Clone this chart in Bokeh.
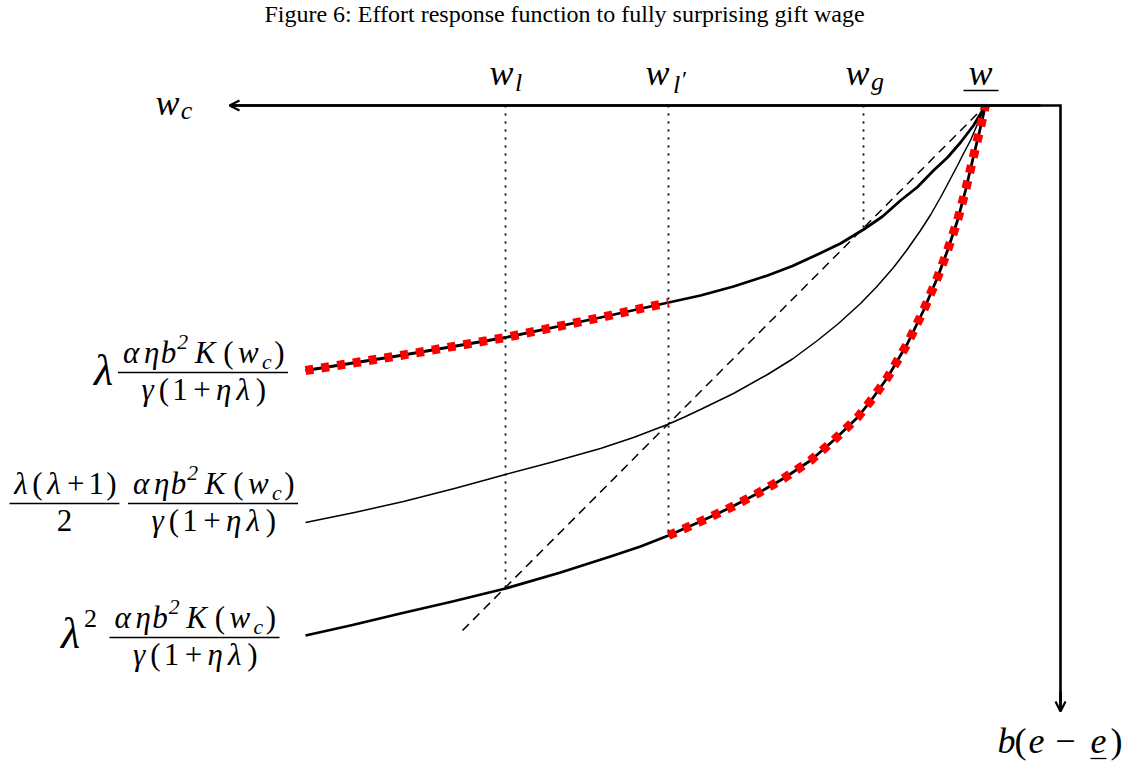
from bokeh.plotting import figure
from bokeh.models import Range1d, Arrow, OpenHead, ColumnDataSource
from bokeh.core.properties import value
from bokeh.embed import file_html
from bokeh.resources import INLINE

# ---------------- data (diagram coordinates, y grows downwards) ----------------
title_text = "Figure 6: Effort response function to fully surprising gift wage"

# curve: lambda * aeb2K/(g(1+el))  (top, thick)
upper_x = [305, 400, 505, 600, 668, 700, 733, 767, 792, 817, 840, 863, 882, 900, 917, 933, 947, 960, 973, 985]
upper_y = [370, 355, 337, 317, 302, 295, 286, 275, 265.5, 254, 243, 229, 216, 200, 186.5, 170, 157, 142, 125, 105]
# curve: lambda(lambda+1)/2 * ...  (middle, thin)
middle_x = [305, 354, 403, 454, 505, 552, 600, 633, 667, 683, 700, 733, 767, 792, 817, 838, 860, 876, 893, 906, 920, 930, 940, 948, 957, 963, 970, 977, 985]
middle_y = [522, 512, 501, 488, 474, 461.5, 448, 437, 424, 417, 409, 393, 374, 358.5, 340, 323, 303, 286.5, 267, 250, 230, 214.5, 197, 182, 165, 153, 140, 123.5, 105]
# curve: lambda^2 * ...  (bottom, thick)
lower_x = [305, 352, 400, 452, 505, 560, 610, 640, 668, 700, 728, 757, 783, 810, 833, 857, 872, 887, 907, 923, 937, 947, 957, 965, 972, 979, 985]
lower_y = [635, 624.5, 613, 601, 588, 572, 556, 546, 535, 521, 508, 493, 478, 460, 440, 417, 398, 377, 343, 310, 277, 250, 220, 190, 160, 131, 105]

# wage markers on the w_c axis and where their guides stop
guide_x = [505, 668, 863]
guide_end = [588, 535, 229]
axis_y = 105           # level of the w_c axis
axis_x = 1060          # position of the effort axis
axis_left_end = 229
axis_bottom_end = 711
dash_x = [462, 985]    # 45 degree reference line
dash_y = [630, 105]
switch_wage = 668      # w_{l'} where the response switches curves

# ---------------- figure ----------------
p = figure(width=1128, height=770, x_range=Range1d(0, 1128), y_range=Range1d(770, 0),
           min_border=0, toolbar_location=None, output_backend="svg",
           x_axis_location=None, y_axis_location=None)
p.grid.visible = False
p.outline_line_color = None
p.background_fill_color = "white"
p.border_fill_color = "white"

# guides
p.segment(x0=guide_x, y0=[axis_y] * 3, x1=guide_x, y1=guide_end,
          line_color="black", line_width=1.8, line_dash="2 6")
# dashed 45 degree line
p.line(dash_x, dash_y, line_color="black", line_width=1.5, line_dash="9 6")

# curves
p.line(upper_x, upper_y, line_color="black", line_width=2.8, line_join="round")
p.line(middle_x, middle_y, line_color="black", line_width=1.5, line_join="round")
p.line(lower_x, lower_y, line_color="black", line_width=2.8, line_join="round")

# red dotted optimal response
ux = [x for x in upper_x if x <= switch_wage]
uy = upper_y[:len(ux)]
lx = [x for x in lower_x if x >= switch_wage]
ly = lower_y[len(lower_x) - len(lx):]
p.line(ux, uy, line_color="#ff0000", line_width=9, line_dash="8 8", line_cap="butt")
p.line(lx, ly, line_color="#ff0000", line_width=9, line_dash="8 8", line_cap="butt")

# axes
p.line([axis_left_end + 2, axis_x, axis_x], [axis_y, axis_y, axis_bottom_end - 2],
       line_color="black", line_width=2.6, line_join="miter")
p.add_layout(Arrow(end=OpenHead(size=10, line_width=2.2), x_start=axis_x - 20, y_start=axis_y,
                   x_end=axis_left_end, y_end=axis_y, line_width=2.6))
p.add_layout(Arrow(end=OpenHead(size=10, line_width=2.2), x_start=axis_x, y_start=axis_bottom_end - 20,
                   x_end=axis_x, y_end=axis_bottom_end, line_width=2.6))

# ---------------- text ----------------
FONT = "Liberation Serif"
MID = 0.33   # distance baseline -> middle, in em
W = {"α": .640, "η": .497, "b": .429, "K": .889, "(": .389, ")": .389, "w": .716, "c": .433,
     "γ": .518, "1": .5, "+": .70, "λ": .583, "2": .5}

num_tokens = [("α", "i"), ("η", "i"), ("b", "i"), ("2", "sup"), ("K", "i"), ("(", "r"),
              ("w", "i"), ("c", "sub"), (")", "r")]
den_tokens = [("γ", "i"), ("(", "r"), ("1", "r"), ("+", "r"), ("η", "i"), ("λ", "i"), (")", "r")]
coef_num_tokens = [("λ", "i"), ("(", "r"), ("λ", "i"), ("+", "r"), ("1", "r"), (")", "r")]
coef_den_tokens = [("2", "r")]

T = dict(x=[], y=[], text=[], size=[], style=[])
bars = dict(x0=[], x1=[], y=[])


def put(t, x, base, size, style):
    T["x"].append(x); T["y"].append(base - MID * size); T["text"].append(t)
    T["size"].append(f"{size:.1f}px"); T["style"].append(style)


def row_width(tokens, em):
    return sum(W[t] * em * (0.7 if k in ("sup", "sub") else 1.0) for t, k in tokens)


def row(tokens, xl, base, em, size):
    x = xl
    for t, k in tokens:
        s = 0.7 if k in ("sup", "sub") else 1.0
        w = W[t] * em * s
        dy = -0.42 * size if k == "sup" else (0.2 * size if k == "sub" else 0)
        put(t, x + w / 2, base + dy, size * s, "normal" if k == "r" else "italic")
        x += w


def frac(num, den, xc, bar_y, em=36.3, size=31):
    wn, wd = row_width(num, em), row_width(den, em)
    wb = max(wn, wd) + 3
    bars["x0"].append(xc - wb / 2); bars["x1"].append(xc + wb / 2); bars["y"].append(bar_y)
    row(num, xc - wn / 2, bar_y - 10, em, size)
    row(den, xc - wd / 2, bar_y + 27, em, size)


frac(num_tokens, den_tokens, 202.5, 372)
put("λ", 103, 385, 44, "italic")
frac(coef_num_tokens, coef_den_tokens, 64, 503, em=34)
frac(num_tokens, den_tokens, 212.5, 503)
frac(num_tokens, den_tokens, 194, 637)
put("λ", 70, 648, 44, "italic")
put("2", 90, 627, 26, "normal")

# axis labels
put("w", 167, 114, 36, "italic"); put("c", 186, 119, 26, "italic")
put("w", 501, 84, 36, "italic"); put("l", 518, 91, 26, "italic")
put("w", 657, 84, 36, "italic"); put("l", 676, 93, 26, "italic"); put("′", 684, 86, 24, "normal")
put("w", 857, 84, 36, "italic"); put("g", 877, 90, 26, "italic")
put("w", 980, 84, 36, "italic")
bars["x0"].append(963); bars["x1"].append(998); bars["y"].append(90)
for t, xc, st in [("b", 1006, "italic"), ("(", 1020, "normal"), ("e", 1036, "italic"),
                  ("−", 1065, "normal"), ("e", 1098, "italic"), (")", 1116, "normal")]:
    put(t, xc, 752, 36, st)
bars["x0"].append(1090); bars["x1"].append(1106); bars["y"].append(758)

p.segment(x0="x0", y0="y", x1="x1", y1="y", source=ColumnDataSource(bars),
          line_color="black", line_width=1.3)
p.text(x="x", y="y", text="text", source=ColumnDataSource(T), text_font=value(FONT),
       text_font_size="size", text_font_style="style", text_align="center",
       text_baseline="middle", text_color="black")

p.text(x=[564], y=[21 - MID * 24], text=[title_text], text_font=value(FONT), text_font_size="24px",
       text_align="center", text_baseline="middle", text_color="black")

open("out.html", "w").write(file_html(p, INLINE))
